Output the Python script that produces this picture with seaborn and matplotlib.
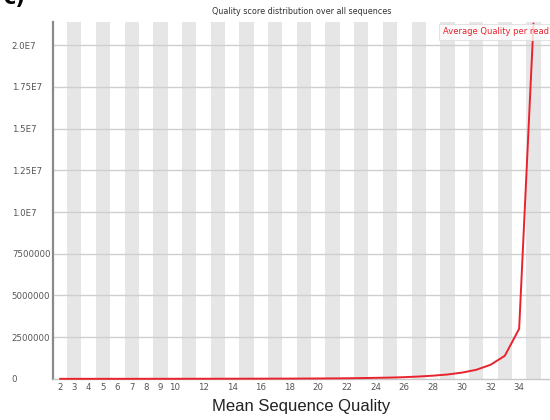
import matplotlib
matplotlib.use("Agg")
import matplotlib.pyplot as plt
import seaborn as sns
import pandas as pd

# Mean per-read quality score and number of reads at each score
quality = list(range(2, 36))
read_counts = [
    1000, 500, 800, 1200, 1500, 2000, 2500, 3000, 3800, 4500,
    5500, 6500, 8000, 9500, 11000, 13000, 15000, 18000, 22000, 27000,
    35000, 45000, 60000, 75000, 100000, 140000, 190000, 260000, 370000,
    540000, 840000, 1380000, 3000000, 21300000,
]
x_tick_values = [2, 3, 4, 5, 6, 7, 8, 9, 10, 12, 14, 16, 18, 20, 22, 24,
                 26, 28, 30, 32, 34]
y_tick_values = [0, 2500000, 5000000, 7500000, 10000000, 12500000,
                 15000000, 17500000, 20000000]
y_tick_labels = ["0", "2500000", "5000000", "7500000", "1.0E7", "1.25E7",
                 "1.5E7", "1.75E7", "2.0E7"]
series_name = "Average Quality per read"

df = pd.DataFrame({"quality": quality, "reads": read_counts})

sns.set_style("white")
plt.rcParams["font.family"] = ["DejaVu Sans"]

fig = plt.figure(figsize=(5.5, 4.2), dpi=100)
ax = fig.add_axes([0.096, 0.098, 0.904, 0.85])

# alternating background bands, one per quality score
for q in quality:
    if q % 2 == 1:
        ax.axvspan(q - 0.5, q + 0.5, color="#e6e6e6", lw=0, zorder=0)

for yv in y_tick_values[1:]:
    ax.axhline(yv, color="#cfcfcf", lw=1.0, zorder=1)

sns.lineplot(data=df, x="quality", y="reads", ax=ax, color="#e8232d",
             lw=1.4, label=series_name, zorder=3, clip_on=False)

ax.set_xlim(1.5, 36.15)
ax.set_ylim(0, 21400000)

ax.set_xticks(x_tick_values)
ax.set_xticklabels([str(v) for v in x_tick_values])
ax.set_yticks(y_tick_values)
ax.set_yticklabels(y_tick_labels)
for lab in ax.get_yticklabels():
    lab.set_horizontalalignment("left")
ax.tick_params(axis="y", length=0, pad=29.5, labelsize=6.2, labelcolor="#555555")
ax.tick_params(axis="x", length=0, pad=3, labelsize=6.2, labelcolor="#555555")

for side in ["top", "right"]:
    ax.spines[side].set_visible(False)
ax.spines["left"].set_color("#8a8a8a")
ax.spines["left"].set_linewidth(1.6)
ax.spines["bottom"].set_color("#c8c8c8")
ax.spines["bottom"].set_linewidth(1.0)

ax.set_xlabel("Mean Sequence Quality", fontsize=12, family=["Liberation Sans"],
              color="#222222", labelpad=5)
ax.set_ylabel("")
ax.set_title("Quality score distribution over all sequences", fontsize=5.8,
             color="#333333", pad=6)

leg = ax.legend(loc="upper right", bbox_to_anchor=(1.005, 0.995),
                handlelength=0, handletextpad=0, fontsize=6,
                labelcolor="#e8232d", frameon=True, fancybox=False,
                borderpad=0.45, borderaxespad=0)
for h in leg.legend_handles:
    h.set_visible(False)
leg.get_frame().set_edgecolor("#dddddd")
leg.get_frame().set_linewidth(0.8)

fig.text(0.005, 1.005, "c)", fontsize=15, fontweight="bold", ha="left",
         va="center", color="black")

fig.savefig("out.png", dpi=100)
